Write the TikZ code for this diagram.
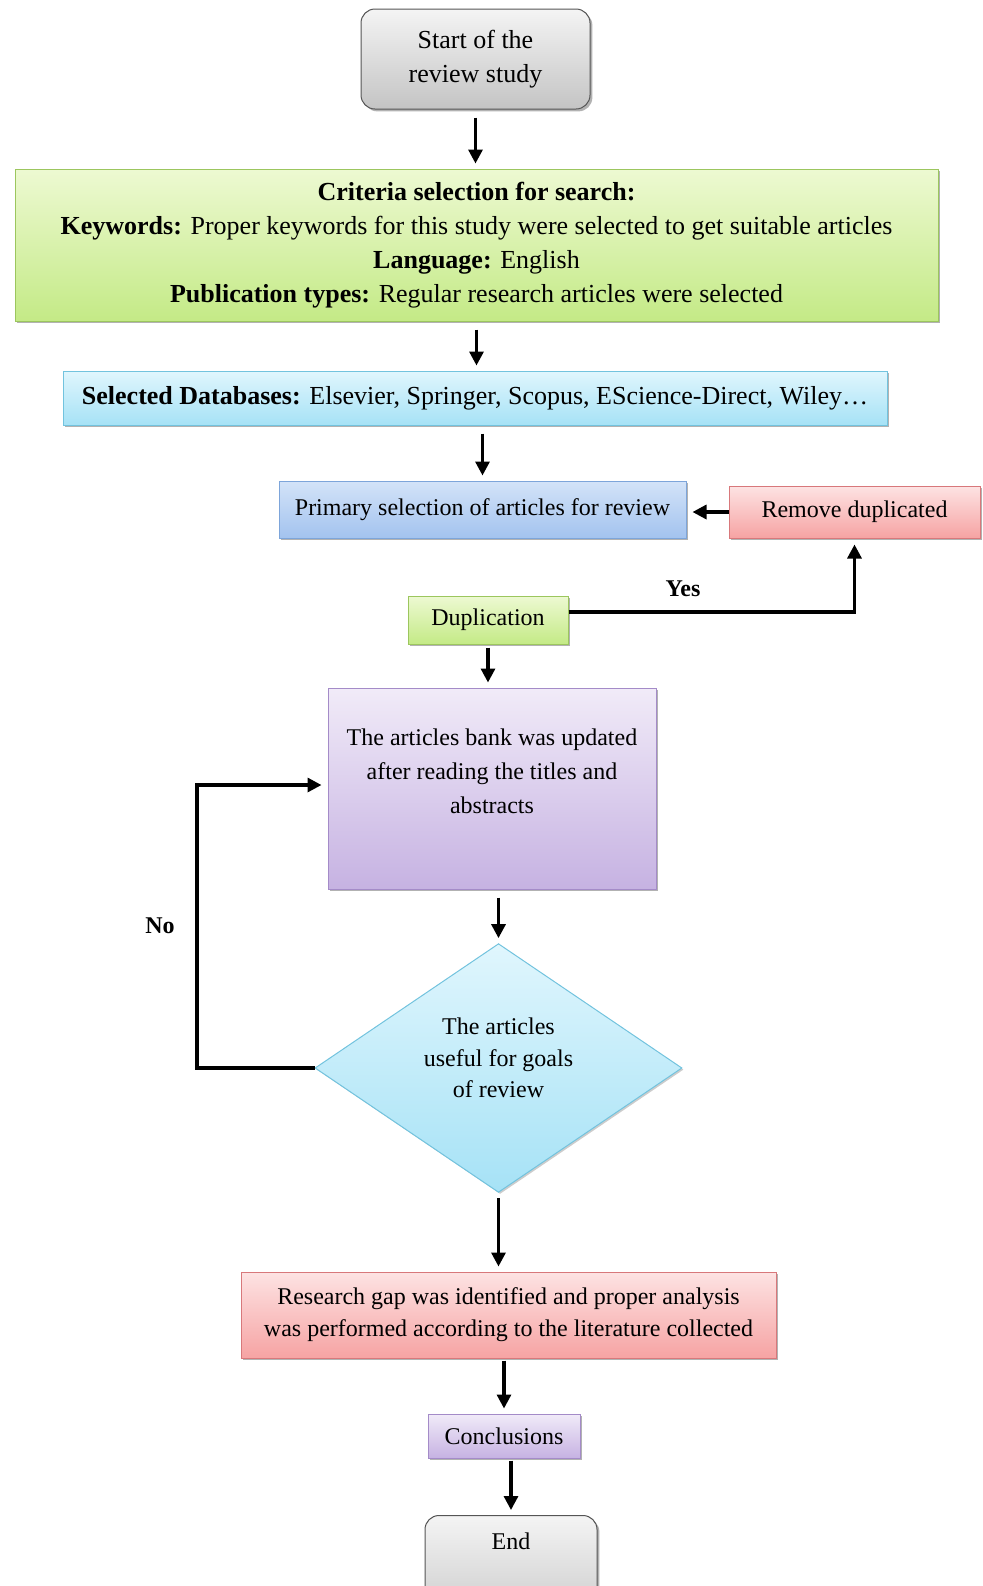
\documentclass[tikz,border=0pt]{standalone}
\usepackage{fontspec}
\setmainfont{Liberation Serif}
\usetikzlibrary{shapes.geometric,arrows.meta,shadows}

\definecolor{graytop}{HTML}{F4F4F4}
\definecolor{graybot}{HTML}{C4C4C4}
\definecolor{grayline}{HTML}{555555}
\definecolor{greentop}{HTML}{EDF9D2}
\definecolor{greenbot}{HTML}{C4EA86}
\definecolor{greenline}{HTML}{9CC65E}
\definecolor{cyantop}{HTML}{E0F6FD}
\definecolor{cyanbot}{HTML}{A6E2F6}
\definecolor{cyanline}{HTML}{72C3DE}
\definecolor{bluetop}{HTML}{D3E3F8}
\definecolor{bluebot}{HTML}{A3C3EF}
\definecolor{blueline}{HTML}{7DA5DA}
\definecolor{redtop}{HTML}{FDE3E3}
\definecolor{redbot}{HTML}{F6A3A3}
\definecolor{redline}{HTML}{D8787B}
\definecolor{purpletop}{HTML}{F1EBF8}
\definecolor{purplebot}{HTML}{C6B2E2}
\definecolor{purpleline}{HTML}{A48BC8}

\begin{document}
\begin{tikzpicture}[x=0.5pt,y=-0.5pt,
	font=\fontsize{12}{17}\selectfont,
	stepbox/.style={rectangle, draw, line width=0.5pt, align=center, inner sep=2pt,
		drop shadow={shadow xshift=1.2pt, shadow yshift=-1.2pt, opacity=0.3, fill=black}},
	graybox/.style={stepbox, rounded corners=7pt, draw=grayline, top color=graytop, bottom color=graybot},
	greenbox/.style={stepbox, draw=greenline, top color=greentop, bottom color=greenbot},
	cyanbox/.style={stepbox, draw=cyanline, top color=cyantop, bottom color=cyanbot},
	bluebox/.style={stepbox, draw=blueline, top color=bluetop, bottom color=bluebot},
	redbox/.style={stepbox, draw=redline, top color=redtop, bottom color=redbot},
	purplebox/.style={stepbox, draw=purpleline, top color=purpletop, bottom color=purplebot},
	bigtext/.style={font=\fontsize{13}{17}\selectfont},
	flow/.style={line width=1.6pt, -{Triangle[length=7pt,width=7pt]}, shorten >=2.5pt, shorten <=4pt},
	loopflow/.style={line width=1.6pt, -{Triangle[length=7pt,width=7pt]}, shorten >=3pt},
	answer/.style={font=\fontsize{12}{14}\selectfont\bfseries}]

	\clip (0,0) rectangle (982,1586);

	\node [graybox, bigtext, minimum width=114.5pt, minimum height=50pt] (start) at (475.5,59) {Start of the\\review study};
	\node [greenbox, bigtext, minimum width=461.5pt, minimum height=76pt] (crit) at (476.5,245)
		{\textbf{Criteria selection for search:}\\
		\textbf{Keywords:} Proper keywords for this study were selected to get suitable articles\\
		\textbf{Language:} English\\
		\textbf{Publication types:} Regular research articles were selected};
	\node [cyanbox, bigtext, minimum width=412pt, minimum height=27pt] (db) at (475,398)
		{\textbf{Selected Databases:} Elsevier, Springer, Scopus, EScience-Direct, Wiley\dots};
	\node [bluebox, minimum width=203.5pt, minimum height=28.5pt] (prim) at (482.5,509.5) {Primary selection of articles for review};
	\node [redbox, minimum width=125.5pt, minimum height=26pt] (remove) at (854.5,512) {Remove duplicated};
	\node [greenbox, minimum width=80pt, minimum height=24pt] (dup) at (488,620) {Duplication};
	\node [purplebox, minimum width=164pt, minimum height=100.5pt, text depth=17pt] (bank) at (492,788.5)
		{The articles bank was updated\\after reading the titles and\\abstracts};
	\node [diamond, draw=cyanline, line width=0.5pt, top color=cyantop, bottom color=cyanbot,
		minimum width=183.5pt, minimum height=121pt, inner sep=0pt, align=center, text depth=10pt,
		font=\fontsize{12}{15.7}\selectfont,
		drop shadow={shadow xshift=0.8pt, shadow yshift=-0.8pt, opacity=0.2, fill=black}] (useful) at (498.5,1068)
		{The articles\\useful for goals\\of review};
	\node [redbox, minimum width=267.5pt, minimum height=43pt, font=\fontsize{12}{16}\selectfont] (gap) at (508.5,1315)
		{Research gap was identified and proper analysis\\was performed according to the literature collected};
	\node [purplebox, minimum width=76pt, minimum height=22pt] (concl) at (504,1436) {Conclusions};
	\node [graybox, anchor=north, minimum width=86pt, inner sep=4pt, text height=13pt, text depth=40pt] (finish) at (511,1515) {End};

	\draw [flow] (start.south) -- (start.south |- crit.north);
	\draw [flow] (crit.south) -- (crit.south |- db.north);
	\draw [flow] (prim.north |- db.south) -- (prim.north);
	\draw [loopflow] (remove.west) -- (remove.west -| prim.east);
	\draw [loopflow] ([yshift=4pt]dup.east) -| (remove.south);
	\draw [flow, shorten <=1.5pt] (dup.south) -- (dup.south |- bank.north);
	\draw [flow] (useful.north |- bank.south) -- (useful.north);
	\coordinate (noturn) at (197,785);
	\draw [loopflow] (useful.west) -| (noturn) -- (noturn -| bank.west);
	\draw [flow, shorten <=2.5pt] (useful.south) -- (useful.south |- gap.north);
	\draw [flow, shorten <=1pt] (concl.north |- gap.south) -- (concl.north);
	\draw [flow, shorten <=1pt] (finish.north |- concl.south) -- (finish.north);

	\node [answer] (yes) at (683,589) {Yes};
	\node [answer] (no) at (160,926) {No};

\end{tikzpicture}
\end{document}
